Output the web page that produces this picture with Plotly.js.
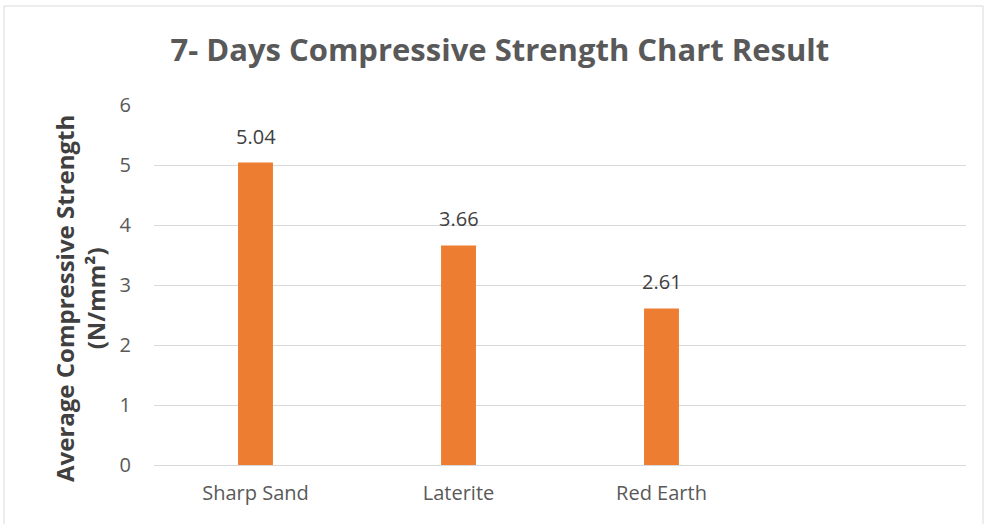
<!DOCTYPE html>
<html>
<head>
<meta charset="utf-8">
<script src="https://cdn.plot.ly/plotly-3.0.1.min.js"></script>
<style>html,body{margin:0;padding:0;background:#fff;}#chart{width:984px;height:524px;}</style>
</head>
<body>
<div id="chart"></div>
<script>
const categories = ['Sharp Sand', 'Laterite', 'Red Earth'];
const strengths = [5.04, 3.66, 2.61];
const labels = ['5.04', '3.66', '2.61'];
const yTicks = [0, 1, 2, 3, 4, 5, 6];
const yTitle = '<b>Average Compressive Strength<br>(N/mm²)</b>';

const W = 984, H = 524;
const mL = 154, mR = 18, mT = 105, mB = 59;
const pw = W - mL - mR, ph = H - mT - mB;
function px(x){ return (x - mL) / pw; }
function py(y){ return (H - mB - y) / ph; }

const FONT = 'Open Sans, sans-serif';

const trace = {
  type: 'bar',
  x: categories,
  y: strengths,
  marker: {color: '#ED7D31'},
  hoverinfo: 'skip'
};

const annotations = categories.map((c, i) => ({
  x: c, y: strengths[i], xref: 'x', yref: 'y',
  text: labels[i], showarrow: false,
  xanchor: 'center', yanchor: 'bottom', yshift: 11,
  font: {family: FONT, size: 20, color: '#404040'}
}));

annotations.push({
  xref: 'paper', yref: 'paper', x: px(80), y: py(299),
  text: yTitle, showarrow: false, textangle: -90,
  xanchor: 'center', yanchor: 'middle',
  font: {family: FONT, size: 24, color: '#404040'}
});

const layout = {
  width: W, height: H,
  margin: {l: mL, r: mR, t: mT, b: mB, pad: 0},
  paper_bgcolor: '#ffffff',
  plot_bgcolor: '#ffffff',
  showlegend: false,
  bargap: 0.828,
  title: {
    text: '<b>7- Days Compressive Strength Chart Result</b>',
    font: {family: FONT, size: 31, color: '#595959'},
    x: 0.508, xanchor: 'center', y: 0.905, yanchor: 'middle'
  },
  xaxis: {
    type: 'category',
    range: [-0.5, 3.5],
    showgrid: false,
    showline: false,
    zeroline: false,
    ticks: '',
    tickfont: {family: FONT, size: 20, color: '#595959'},
    ticklabelstandoff: 14
  },
  yaxis: {
    range: [0, 6],
    tickvals: yTicks,
    ticktext: yTicks.map(String),
    showgrid: true,
    gridcolor: '#d9d9d9',
    gridwidth: 1,
    zeroline: true,
    zerolinecolor: '#d9d9d9',
    zerolinewidth: 1,
    showline: false,
    ticks: '',
    tickfont: {family: FONT, size: 20, color: '#595959'},
    ticklabelstandoff: 22
  },
  annotations: annotations,
  shapes: [{
    type: 'rect', xref: 'paper', yref: 'paper',
    x0: px(4), x1: px(983), y0: py(530), y1: py(6),
    line: {color: '#d9d9d9', width: 1}, fillcolor: 'rgba(0,0,0,0)', layer: 'below'
  }]
};

Plotly.newPlot('chart', [trace], layout, {staticPlot: true, displayModeBar: false});
</script>
</body>
</html>
